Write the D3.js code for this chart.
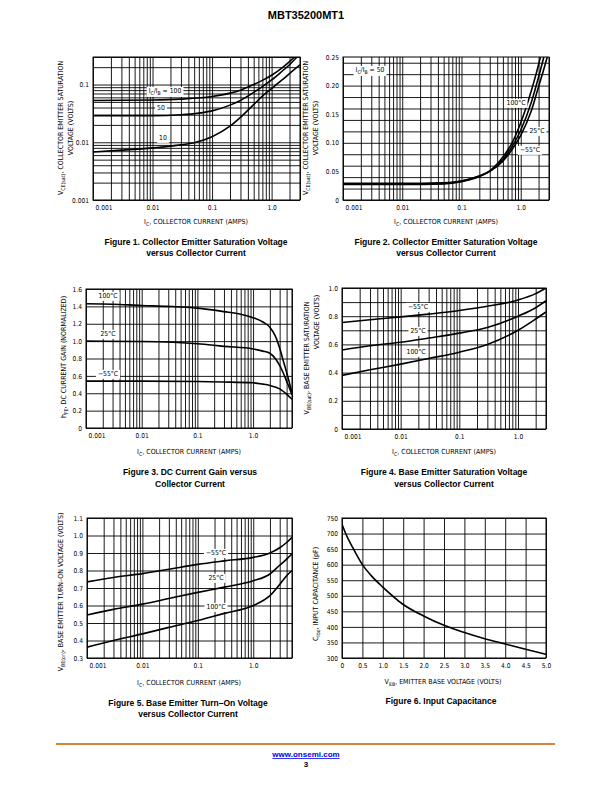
<!DOCTYPE html>
<html>
<head>
<meta charset="utf-8">
<title>MBT35200MT1</title>
<script src="https://cdn.jsdelivr.net/npm/d3@7"></script>
<style>
body { margin: 0; background: #fff; }
</style>
</head>
<body>
<script>
var FONT = '"Liberation Sans Narrow", "DejaVu Sans Condensed", "Liberation Sans", Arial, sans-serif';
var CAPFONT = '"Liberation Sans", Arial, sans-serif';

// ======================
// data
// ======================
var logTickValues = [0.001, 0.01, 0.1, 1];
var logTickLabels = ['0.001', '0.01', '0.1', '1.0'];

// fig 1 : Vce(sat) vs Ic, log / log
var fig1YTicks = [0.001, 0.01, 0.1];
var fig1YLabels = ['0.001', '0.01', '0.1'];
var fig1Ratio100 = [[0.001, 0.053], [0.01, 0.054], [0.03, 0.056], [0.1, 0.062], [0.2, 0.071], [0.3, 0.080],
    [0.5, 0.100], [0.7, 0.118], [1.0, 0.145], [1.5, 0.195], [2.0, 0.25], [2.5, 0.31]];
var fig1Ratio50 = [[0.001, 0.029], [0.01, 0.029], [0.03, 0.030], [0.06, 0.032], [0.1, 0.035], [0.2, 0.044],
    [0.3, 0.053], [0.5, 0.073], [0.7, 0.092], [1.0, 0.12], [1.5, 0.17], [2.0, 0.22], [2.7, 0.30], [3.0, 0.33]];
var fig1Ratio10 = [[0.001, 0.0068], [0.003, 0.0073], [0.01, 0.0080], [0.03, 0.0090], [0.05, 0.0098], [0.1, 0.0125],
    [0.2, 0.019], [0.3, 0.027], [0.5, 0.045], [0.7, 0.063], [1.0, 0.085], [1.5, 0.12], [2.0, 0.155], [3.0, 0.22]];

// fig 2 : Vce(sat) vs Ic at Ic/Ib = 50
var fig2YTicks = [0, 0.05, 0.10, 0.15, 0.20, 0.25];
var fig2YLabels = ['0', '0.05', '0.10', '0.15', '0.20', '0.25'];
var fig2T100 = [[0.001, 0.029], [0.01, 0.029], [0.05, 0.030], [0.1, 0.033], [0.2, 0.042], [0.3, 0.051],
    [0.5, 0.075], [0.7, 0.098], [1.0, 0.135], [1.5, 0.19], [2.15, 0.25], [2.5, 0.28]];
var fig2T25 = [[0.001, 0.028], [0.01, 0.028], [0.05, 0.029], [0.1, 0.033], [0.2, 0.042], [0.3, 0.050],
    [0.5, 0.071], [0.7, 0.092], [1.0, 0.122], [1.5, 0.17], [2.0, 0.215], [2.45, 0.25], [3.0, 0.29]];
var fig2Tm55 = [[0.001, 0.027], [0.01, 0.027], [0.05, 0.028], [0.1, 0.032], [0.2, 0.041], [0.3, 0.050],
    [0.5, 0.068], [0.7, 0.087], [1.0, 0.113], [1.5, 0.155], [2.0, 0.198], [2.8, 0.25], [3.0, 0.262]];

// fig 3 : hFE normalized vs Ic
var fig3YTicks = [0, 0.2, 0.4, 0.6, 0.8, 1.0, 1.2, 1.4, 1.6];
var fig3YLabels = ['0', '0.2', '0.4', '0.6', '0.8', '1.0', '1.2', '1.4', '1.6'];
var fig3T100 = [[0.001, 1.43], [0.003, 1.425], [0.01, 1.41], [0.03, 1.40], [0.1, 1.38], [0.3, 1.34], [0.6, 1.31],
    [1.0, 1.27], [1.5, 1.22], [2.0, 1.16], [2.5, 1.06], [3.0, 0.92], [3.5, 0.77], [4.0, 0.64], [4.5, 0.52], [5.0, 0.40]];
var fig3T25 = [[0.001, 1.0], [0.01, 0.995], [0.1, 0.97], [0.3, 0.94], [1.0, 0.91], [1.5, 0.885], [2.0, 0.86],
    [2.5, 0.80], [3.0, 0.72], [3.5, 0.63], [4.0, 0.54], [4.5, 0.46], [5.0, 0.38]];
var fig3Tm55 = [[0.001, 0.54], [0.01, 0.54], [0.1, 0.535], [0.3, 0.53], [1.0, 0.52], [1.5, 0.505], [2.0, 0.49],
    [3.0, 0.45], [4.0, 0.39], [5.0, 0.33]];

// fig 4 : Vbe(sat) vs Ic
var fig4YTicks = [0, 0.2, 0.4, 0.6, 0.8, 1.0];
var fig4YLabels = ['0', '0.2', '0.4', '0.6', '0.8', '1.0'];
var fig4Tm55 = [[0.001, 0.755], [0.003, 0.775], [0.01, 0.795], [0.03, 0.815], [0.1, 0.84], [0.3, 0.87],
    [1.0, 0.915], [2.0, 0.96], [3.0, 1.0]];
var fig4T25 = [[0.001, 0.56], [0.003, 0.59], [0.01, 0.615], [0.03, 0.645], [0.1, 0.68], [0.3, 0.72],
    [1.0, 0.80], [2.0, 0.86], [3.0, 0.91]];
var fig4T100 = [[0.001, 0.38], [0.003, 0.42], [0.01, 0.46], [0.03, 0.50], [0.1, 0.545], [0.3, 0.60],
    [1.0, 0.70], [2.0, 0.78], [3.0, 0.83]];

// fig 5 : Vbe(on) vs Ic
var fig5YTicks = [0.3, 0.4, 0.5, 0.6, 0.7, 0.8, 0.9, 1.0, 1.1];
var fig5YLabels = ['0.3', '0.4', '0.5', '0.6', '0.7', '0.8', '0.9', '1.0', '1.1'];
var fig5Tm55 = [[0.001, 0.735], [0.003, 0.76], [0.01, 0.782], [0.03, 0.807], [0.1, 0.835], [0.3, 0.855],
    [1.0, 0.875], [2.0, 0.90], [3.0, 0.93], [4.0, 0.96], [5.0, 0.99]];
var fig5T25 = [[0.001, 0.546], [0.003, 0.578], [0.01, 0.608], [0.03, 0.64], [0.1, 0.675], [0.3, 0.705],
    [1.0, 0.741], [2.0, 0.78], [3.0, 0.83], [4.0, 0.865], [5.0, 0.895]];
var fig5T100 = [[0.001, 0.362], [0.003, 0.40], [0.01, 0.438], [0.03, 0.475], [0.1, 0.514], [0.3, 0.555],
    [1.0, 0.60], [2.0, 0.656], [3.0, 0.72], [4.0, 0.77], [5.0, 0.80]];

// fig 6 : input capacitance vs Veb
var fig6XTicks = [0, 0.5, 1.0, 1.5, 2.0, 2.5, 3.0, 3.5, 4.0, 4.5, 5.0];
var fig6XLabels = ['0', '0.5', '1.0', '1.5', '2.0', '2.5', '3.0', '3.5', '4.0', '4.5', '5.0'];
var fig6YTicks = [300, 350, 400, 450, 500, 550, 600, 650, 700, 750];
var fig6Cibo = [[0, 730], [0.1, 697], [0.25, 658], [0.5, 600], [0.75, 560], [1.0, 528], [1.5, 472], [2.0, 435],
    [2.5, 405], [3.0, 382], [3.5, 362], [4.0, 345], [4.5, 328], [5.0, 312]];

// ======================
// svg
// ======================
var svg = d3.select('body').append('svg')
        .attr('width', 612)
        .attr('height', 792);
var defs = svg.append('defs');

// text made of [string, isSubscript] parts
function rich(sel, parts, size) {
    var sub = false;
    parts.forEach(function (p) {
        var t = sel.append('tspan').text(p[0]);
        if (p[1] && !sub) {
            t.attr('font-size', size * 0.75).attr('dy', size * 0.3);
            sub = true;
        } else if (!p[1] && sub) {
            t.attr('dy', -size * 0.3);
            sub = false;
        }
    });
    return sel;
}

function boxLabel(g, x, y, parts) {
    var t = g.append('text')
            .attr('x', x)
            .attr('y', y)
            .attr('dy', '0.35em')
            .attr('text-anchor', 'middle')
            .attr('font-family', FONT)
            .attr('font-size', 6.8);
    rich(t, parts, 6.8);
    var b = t.node().getBBox();
    g.insert('rect', function () { return t.node(); })
            .attr('x', b.x - 2)
            .attr('y', b.y - 0.5)
            .attr('width', b.width + 4)
            .attr('height', b.height + 1)
            .attr('fill', '#fff');
}

var chartId = 0;
function chart(c) {
    var w = c.x1 - c.x0, h = c.y1 - c.y0;
    var g = svg.append('g').attr('transform', 'translate(' + c.x0 + ',' + c.y0 + ')');
    var x = (c.xlog ? d3.scaleLog() : d3.scaleLinear()).domain(c.xdom).range([0, w]);
    var y = (c.ylog ? d3.scaleLog() : d3.scaleLinear()).domain(c.ydom).range([h, 0]);

    // grid
    var gx = g.append('g').attr('transform', 'translate(0,' + h + ')')
            .call(d3.axisBottom(x).tickValues(c.xgrid || x.ticks()).tickSize(-h).tickFormat(''));
    var gy = g.append('g')
            .call(d3.axisLeft(y).tickValues(c.ygrid || y.ticks()).tickSize(-w).tickFormat(''));
    [gx, gy].forEach(function (s) {
        s.select('.domain').remove();
        s.selectAll('line').attr('stroke', '#000').attr('stroke-width', 0.9);
    });

    // curves
    var id = 'clip' + (chartId++);
    defs.append('clipPath').attr('id', id)
            .append('rect').attr('width', w).attr('height', h);
    var line = d3.line()
            .x(function (d) { return x(d[0]); })
            .y(function (d) { return y(d[1]); })
            .curve(d3.curveMonotoneX);
    g.append('g').attr('clip-path', 'url(#' + id + ')')
            .selectAll('path')
            .data(c.series)
            .enter().append('path')
            .attr('d', line)
            .attr('fill', 'none')
            .attr('stroke', '#000')
            .attr('stroke-width', 1.6);

    g.append('rect')
            .attr('width', w)
            .attr('height', h)
            .attr('fill', 'none')
            .attr('stroke', '#000')
            .attr('stroke-width', 1);

    // tick labels
    var xa = g.append('g').attr('transform', 'translate(0,' + h + ')')
            .call(d3.axisBottom(x).tickValues(c.xticks)
                    .tickFormat(function (d, i) { return c.xlabels[i]; })
                    .tickSize(0).tickPadding(5));
    var ya = g.append('g')
            .call(d3.axisLeft(y).tickValues(c.yticks)
                    .tickFormat(function (d, i) { return c.ylabels[i]; })
                    .tickSize(0).tickPadding(4));
    [xa, ya].forEach(function (s) {
        s.select('.domain').remove();
        s.attr('font-family', FONT).attr('font-size', 6.6);
        s.selectAll('text').attr('fill', '#000');
    });
    if (c.xlog) {
        xa.selectAll('.tick').filter(function (d, i) { return i == 0; })
                .select('text').attr('text-anchor', 'start').attr('x', 2);
    }

    // in-plot labels
    (c.labels || []).forEach(function (l) {
        boxLabel(svg, l[0], l[1], l[2]);
    });

    // axis titles
    var xt = svg.append('text')
            .attr('x', c.xtitle[0])
            .attr('y', c.xtitle[1])
            .attr('text-anchor', 'middle')
            .attr('font-family', FONT)
            .attr('font-size', 7);
    rich(xt, c.xtitle[2], 7);
    c.ytitle.forEach(function (t) {
        var yt = svg.append('text')
                .attr('transform', 'translate(' + t[0] + ',' + t[1] + ') rotate(-90)')
                .attr('text-anchor', 'middle')
                .attr('font-family', FONT)
                .attr('font-size', 7);
        rich(yt, t[2], 7);
    });

    // caption
    c.caption.forEach(function (t) {
        svg.append('text')
                .attr('x', t[0])
                .attr('y', t[1])
                .attr('text-anchor', 'middle')
                .attr('font-family', CAPFONT)
                .attr('font-weight', 'bold')
                .attr('font-size', 8.5)
                .text(t[2]);
    });
}

var icTitle = [['I'], ['C', 1], [', COLLECTOR CURRENT (AMPS)']];

// ======================
// figures
// ======================
chart({
    x0: 93, x1: 300, y0: 57, y1: 200,
    xlog: true, ylog: true, xdom: [0.001, 3], ydom: [0.001, 0.3],
    xticks: logTickValues, xlabels: logTickLabels,
    yticks: fig1YTicks, ylabels: fig1YLabels,
    series: [fig1Ratio100, fig1Ratio50, fig1Ratio10],
    labels: [[165, 91, [['I'], ['C', 1], ['/I'], ['B', 1], [' = 100']]], [161, 108, [['50']]], [163, 138, [['10']]]],
    xtitle: [196, 224, icTitle],
    ytitle: [[63, 128, [['V'], ['CE(sat)', 1], [', COLLECTOR EMITTER SATURATION']]], [73, 128, [['VOLTAGE (VOLTS)']]]],
    caption: [[196, 245, 'Figure 1. Collector Emitter Saturation Voltage'], [196, 256, 'versus Collector Current']]
});

chart({
    x0: 343, x1: 549, y0: 57, y1: 200,
    xlog: true, ylog: false, xdom: [0.001, 3], ydom: [0, 0.25],
    xticks: logTickValues, xlabels: logTickLabels,
    yticks: fig2YTicks, ylabels: fig2YLabels,
    series: [fig2T100, fig2T25, fig2Tm55],
    labels: [[370, 70, [['I'], ['C', 1], ['/I'], ['B', 1], [' = 50']]], [516, 103, [['100°C']]],
        [537, 131, [['25°C']]], [530, 150, [['\u221255°C']]]],
    xtitle: [446, 224, icTitle],
    ytitle: [[308, 128, [['V'], ['CE(sat)', 1], [', COLLECTOR EMITTER SATURATION']]], [318, 128, [['VOLTAGE (VOLTS)']]]],
    caption: [[446, 245, 'Figure 2. Collector Emitter Saturation Voltage'], [446, 256, 'versus Collector Current']]
});

chart({
    x0: 86, x1: 292, y0: 289, y1: 428,
    xlog: true, ylog: false, xdom: [0.001, 5], ydom: [0, 1.6],
    xticks: logTickValues, xlabels: logTickLabels,
    yticks: fig3YTicks, ylabels: fig3YLabels,
    series: [fig3T100, fig3T25, fig3Tm55],
    labels: [[108, 296, [['100°C']]], [108, 334, [['25°C']]], [108, 374, [['\u221255°C']]]],
    xtitle: [189, 454, icTitle],
    ytitle: [[66, 357, [['h'], ['FE', 1], [', DC CURRENT GAIN (NORMALIZED)']]]],
    caption: [[190, 475, 'Figure 3. DC Current Gain versus'], [190, 487, 'Collector Current']]
});

chart({
    x0: 342, x1: 546, y0: 288, y1: 429,
    xlog: true, ylog: false, xdom: [0.001, 3], ydom: [0, 1.0],
    xticks: logTickValues, xlabels: logTickLabels,
    yticks: fig4YTicks, ylabels: fig4YLabels,
    series: [fig4Tm55, fig4T25, fig4T100],
    labels: [[418, 307, [['\u221255°C']]], [418, 331, [['25°C']]], [416, 352, [['100°C']]]],
    xtitle: [444, 454, icTitle],
    ytitle: [[309, 358, [['V'], ['BE(sat)', 1], [', BASE EMITTER SATURATION']]], [319, 322, [['VOLTAGE (VOLTS)']]]],
    caption: [[444, 475, 'Figure 4. Base Emitter Saturation Voltage'], [444, 487, 'versus Collector Current']]
});

chart({
    x0: 87, x1: 292, y0: 518, y1: 658,
    xlog: true, ylog: false, xdom: [0.001, 5], ydom: [0.3, 1.1],
    xticks: logTickValues, xlabels: logTickLabels,
    yticks: fig5YTicks, ylabels: fig5YLabels,
    series: [fig5Tm55, fig5T25, fig5T100],
    labels: [[216, 553, [['\u221255°C']]], [216, 578, [['25°C']]], [216, 607, [['100°C']]]],
    xtitle: [189, 685, icTitle],
    ytitle: [[63, 592, [['V'], ['BE(on)', 1], [', BASE EMITTER TURN\u2013ON VOLTAGE (VOLTS)']]]],
    caption: [[188, 706, 'Figure 5. Base Emitter Turn\u2013On Voltage'], [188, 717, 'versus Collector Current']]
});

chart({
    x0: 342, x1: 546, y0: 518, y1: 658,
    xlog: false, ylog: false, xdom: [0, 5], ydom: [300, 750],
    xgrid: fig6XTicks, ygrid: fig6YTicks,
    xticks: fig6XTicks, xlabels: fig6XLabels,
    yticks: fig6YTicks, ylabels: fig6YTicks.map(String),
    series: [fig6Cibo],
    labels: [],
    xtitle: [443, 684, [['V'], ['EB', 1], [', EMITTER BASE VOLTAGE (VOLTS)']]],
    ytitle: [[318, 594, [['C'], ['Ibo', 1], [', INPUT CAPACITANCE (pF)']]]],
    caption: [[441, 704, 'Figure 6. Input Capacitance']]
});

// ======================
// page header / footer
// ======================
svg.append('text')
        .attr('x', 306)
        .attr('y', 19)
        .attr('text-anchor', 'middle')
        .attr('font-family', CAPFONT)
        .attr('font-weight', 'bold')
        .attr('font-size', 11)
        .text('MBT35200MT1');

svg.append('line')
        .attr('x1', 56).attr('x2', 555)
        .attr('y1', 744).attr('y2', 744)
        .attr('stroke', '#d9823b')
        .attr('stroke-width', 2);
svg.append('text')
        .attr('x', 306)
        .attr('y', 757)
        .attr('text-anchor', 'middle')
        .attr('font-family', CAPFONT)
        .attr('font-weight', 'bold')
        .attr('font-size', 8)
        .attr('fill', '#0000ee')
        .attr('text-decoration', 'underline')
        .text('www.onsemi.com');
svg.append('text')
        .attr('x', 306)
        .attr('y', 767)
        .attr('text-anchor', 'middle')
        .attr('font-family', CAPFONT)
        .attr('font-weight', 'bold')
        .attr('font-size', 8)
        .text('3');
</script>
</body>
</html>
